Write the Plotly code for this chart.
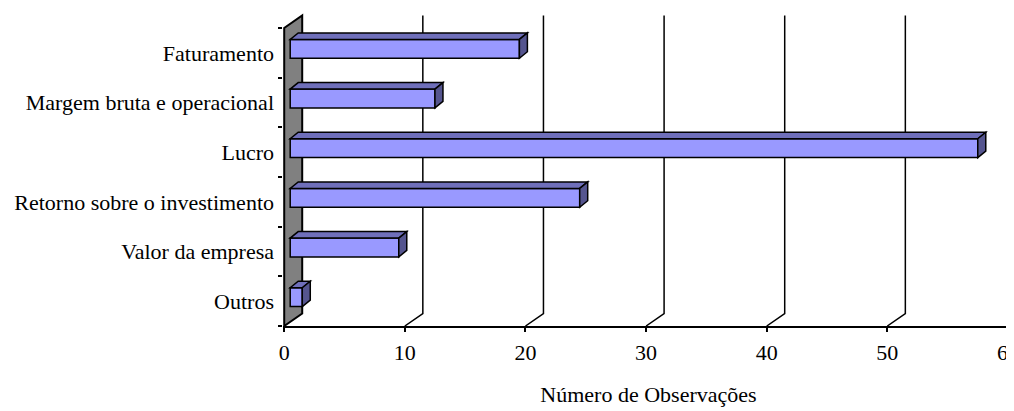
import plotly.graph_objects as go

# ---- data ----
categories = ["Faturamento", "Margem bruta e operacional", "Lucro",
              "Retorno sobre o investimento", "Valor da empresa", "Outros"]
observacoes = [19, 12, 57, 24, 9, 1]
x_ticks = [0, 10, 20, 30, 40, 50, 60]
x_title = "Número de Observações"

# ---- layout constants ----
OFF = 8                      # page body margin around the plot div
W, H = 1014, 411
ML, MT = 283 - OFF, 13 - OFF
PH = 313
MB = H - MT - PH
MR = OFF
X0, X1 = -0.1, 60.5
n = len(categories)
PW = W - ML - MR
kx = PW / (X1 - X0)
band_px = 298 / n
Y0 = -0.5
Y1 = Y0 + PH / band_px


def ux(p):
    return p / kx


def uy(p):
    return p / band_px


DX, DY = ux(18), uy(12.5)      # depth of the 3-D box (wall / gridlines)
BDX, BDY = ux(6), uy(4)        # bar front face offset into depth
DDX, DDY = ux(8), uy(6.5)      # bar depth
BW = uy(18.8)                  # bar thickness

FONT = "Liberation Serif, Times New Roman, serif"
FS = 22
FRONT = "#9999FF"
TOP = "#6F6FBA"
SIDE = "#55558F"
WALL = "#808080"

pos = [n - 1 - i for i in range(n)]

shapes = []
# back wall (left)
ytop, ybot = Y0 + n, Y0
shapes.append(dict(type="path", xref="x", yref="y", layer="below",
                   path=f"M 0 {ybot} L {DX} {ybot+DY} L {DX} {ytop+DY} L 0 {ytop} Z",
                   fillcolor=WALL, line=dict(color="black", width=2)))
# gridlines on back plane + floor diagonals
for t in x_ticks[1:]:
    shapes.append(dict(type="path", xref="x", yref="y", layer="below",
                       path=f"M {t+DX} {ytop+DY} L {t+DX} {ybot+DY} L {t} {ybot}",
                       line=dict(color="black", width=1.5)))

# 3-D faces of bars
for p, v in zip(pos, observacoes):
    yc = p + BDY
    yt, yb = yc + BW / 2, yc - BW / 2
    xs, xe = BDX, BDX + v
    shapes.append(dict(type="path", xref="x", yref="y", layer="above",
                       path=f"M {xs} {yt} L {xe} {yt} L {xe+DDX} {yt+DDY} L {xs+DDX} {yt+DDY} Z",
                       fillcolor=TOP, line=dict(color="black", width=1.5)))
    shapes.append(dict(type="path", xref="x", yref="y", layer="above",
                       path=f"M {xe} {yb} L {xe} {yt} L {xe+DDX} {yt+DDY} L {xe+DDX} {yb+DDY} Z",
                       fillcolor=SIDE, line=dict(color="black", width=1.5)))

fig = go.Figure()
fig.add_trace(go.Bar(
    orientation="h", x=observacoes, y=pos, base=BDX, width=BW,
    offset=BDY - BW / 2,
    marker=dict(color=FRONT, line=dict(color="black", width=1.5)),
    hoverinfo="skip", showlegend=False))

fig.update_layout(
    width=W, height=H, template="none",
    margin=dict(l=ML, r=MR, t=MT, b=MB, pad=0),
    paper_bgcolor="white", plot_bgcolor="white",
    font=dict(family=FONT, size=FS, color="black"),
    shapes=shapes, showlegend=False,
    xaxis=dict(range=[X0, X1], tickvals=x_ticks, ticks="outside", ticklen=4,
               tickwidth=1.5, tickcolor="black", showline=True, linecolor="black",
               linewidth=1.5, showgrid=False, zeroline=False, automargin=False,
               tickfont=dict(family=FONT, size=FS), ticklabelstandoff=2,
               title=dict(text=x_title, font=dict(family=FONT, size=FS), standoff=22)),
    yaxis=dict(range=[Y0, Y1], tickvals=pos, ticktext=categories, ticks="",
               showline=False, showgrid=False, zeroline=False, automargin=False,
               tickfont=dict(family=FONT, size=FS), ticklabelstandoff=8,
               minor=dict(tickvals=[Y0 + j for j in range(n + 1)], ticks="outside",
                          ticklen=4, tickwidth=1.5, tickcolor="black", showgrid=False)),
)

fig.write_html("out.html")
